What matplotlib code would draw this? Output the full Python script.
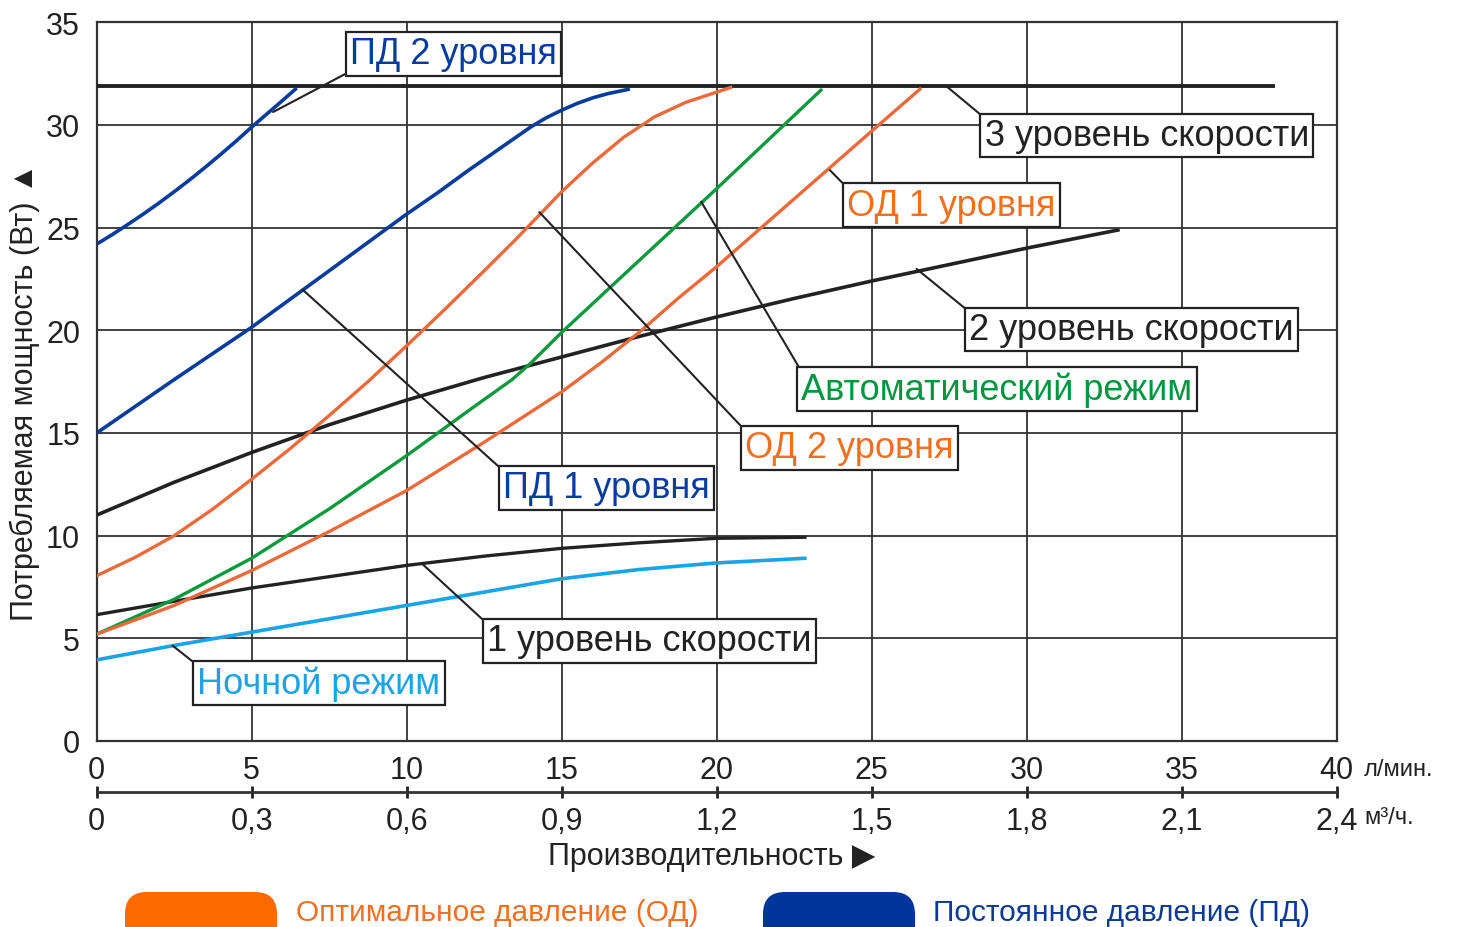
import matplotlib.pyplot as plt
from matplotlib.patches import FancyBboxPatch

plt.rcParams['font.family'] = ['Liberation Sans', 'DejaVu Sans']

# кривые: x - производительность (л/мин), y - потребляемая мощность (Вт)
speed3_x = [0, 38.0]
speed3_y = [31.9, 31.9]
speed2_x = [0, 2.5, 5, 7.5, 10, 12.5, 15, 17.5, 20, 22.5, 25, 27.5, 30, 33.0]
speed2_y = [11.0, 12.6, 14.05, 15.4, 16.6, 17.7, 18.7, 19.7, 20.65, 21.55, 22.4, 23.2, 24.0, 24.9]
speed1_x = [0, 2.5, 5, 7.5, 10, 12.5, 15, 17.5, 20, 22.9]
speed1_y = [6.15, 6.8, 7.45, 8.0, 8.55, 9.0, 9.38, 9.65, 9.87, 9.92]
night_x = [0, 2.5, 5, 7.5, 10, 12.5, 15, 17.5, 20, 22.9]
night_y = [3.95, 4.65, 5.3, 5.95, 6.6, 7.25, 7.9, 8.35, 8.67, 8.9]
pd2_x = [0, 0.5, 1, 1.5, 2, 2.5, 3, 3.5, 4, 4.5, 5, 5.5, 6, 6.45]
pd2_y = [24.2, 24.66, 25.15, 25.66, 26.19, 26.75, 27.33, 27.94, 28.57, 29.22, 29.9, 30.55, 31.2, 31.8]
pd1_x = [0, 2.5, 5, 7.5, 10, 11, 12, 13, 14, 14.5, 15, 15.5, 16, 16.5, 17.2]
pd1_y = [15.0, 17.6, 20.15, 22.9, 25.66, 26.7, 27.8, 28.85, 29.9, 30.35, 30.72, 31.05, 31.32, 31.53, 31.75]
od2_x = [0, 1.25, 2.5, 3.75, 5, 6.25, 7.5, 8.75, 10, 11.25, 12.5, 13.5, 14.3, 15, 16, 17, 18, 19, 20, 20.5]
od2_y = [8.05, 8.95, 10.0, 11.3, 12.75, 14.25, 15.85, 17.5, 19.25, 21.05, 22.9, 24.4, 25.65, 26.75,
         28.15, 29.4, 30.4, 31.1, 31.6, 31.85]
auto_x = [0, 2.5, 5, 7.5, 10, 12.1, 13.4, 14, 15, 17.5, 20, 23.4]
auto_y = [5.2, 6.9, 8.9, 11.3, 13.9, 16.2, 17.6, 18.4, 19.9, 23.4, 26.9, 31.75]
od1_x = [0, 2.5, 5, 7.5, 10, 12.5, 15, 16.25, 17.5, 18.75, 20, 22.5, 25, 26.6]
od1_y = [5.2, 6.6, 8.3, 10.2, 12.2, 14.55, 17.0, 18.4, 19.9, 21.55, 23.1, 26.4, 29.7, 31.8]

x_ticks = [0, 5, 10, 15, 20, 25, 30, 35, 40]
y_ticks = [0, 5, 10, 15, 20, 25, 30, 35]
m3_ticks = [0, 0.3, 0.6, 0.9, 1.2, 1.5, 1.8, 2.1, 2.4]
m3_labels = ['0', '0,3', '0,6', '0,9', '1,2', '1,5', '1,8', '2,1', '2,4']

BLUE = '#063c9c'
ORANGE = '#ec6a3a'
GREEN = '#0a9a3c'
LBLUE = '#1aa3e6'
BLACK = '#222222'

fig = plt.figure(figsize=(14.57, 9.28), dpi=100)
ax = fig.add_axes([0.0664, 0.2005, 0.8510, 0.7744])

for xs, ys, c, lw in [(speed3_x, speed3_y, BLACK, 2.8), (speed2_x, speed2_y, BLACK, 2.6),
                      (speed1_x, speed1_y, BLACK, 2.4), (night_x, night_y, LBLUE, 2.6),
                      (pd2_x, pd2_y, BLUE, 2.6), (pd1_x, pd1_y, BLUE, 2.6),
                      (od2_x, od2_y, ORANGE, 2.4), (auto_x, auto_y, GREEN, 2.4),
                      (od1_x, od1_y, ORANGE, 2.4)]:
    ax.plot(xs, ys, color=c, lw=lw, solid_capstyle='butt', solid_joinstyle='round', zorder=3)

ax.set_xlim(0, 40)
ax.set_ylim(0, 35)
ax.set_xticks(x_ticks)
ax.set_yticks(y_ticks)
ax.grid(True, color='#333333', lw=1.3)
ax.tick_params(length=0, labelsize=22, colors='#222222')
ax.tick_params(axis='x', pad=10)
ax.tick_params(axis='y', pad=12)
for s in ax.spines.values():
    s.set_color('#333333')
    s.set_linewidth(1.6)

# вторая шкала м3/ч
sec = ax.secondary_xaxis(-0.0707, functions=(lambda v: v * 0.06, lambda v: v / 0.06))
sec.set_xticks(m3_ticks, m3_labels)
sec.tick_params(direction='inout', length=9, width=2, labelsize=22, pad=5.5, colors='#222222')
sec.spines['bottom'].set_linewidth(2)
sec.spines['bottom'].set_color('#333333')

# подписи кривых
labels = [
    ('ПД 2 уровня', BLUE, (5.69, 30.63), (11.51, 33.46), (0, 0)),
    ('3 уровень скорости', BLACK, (27.4, 31.9), (33.88, 29.48), (0, 1)),
    ('ОД 1 уровня', '#f07020', (23.65, 27.8), (27.57, 26.09), (0, 1)),
    ('2 уровень скорости', BLACK, (26.45, 22.99), (33.39, 20.04), (0, 1)),
    ('Автоматический режим', '#009640', (19.5, 26.26), (29.04, 17.14), (0, 1)),
    ('ОД 2 уровня', '#f07020', (14.28, 25.75), (24.28, 14.27), (0, 1)),
    ('ПД 1 уровня', BLUE, (6.64, 21.98), (16.44, 12.32), (0, 1)),
    ('1 уровень скорости', BLACK, (10.51, 8.61), (17.82, 4.87), (0, 1)),
    ('Ночной режим', LBLUE, (2.45, 4.64), (7.16, 2.83), (0, 1)),
]
for txt, c, xy, xyt, rp in labels:
    ax.annotate(txt, xy=xy, xytext=xyt, textcoords='data', ha='center', va='center',
                fontsize=26, color=c, zorder=6, annotation_clip=False,
                bbox=dict(boxstyle='square,pad=0.12', fc='white', ec=BLACK, lw=1.6),
                arrowprops=dict(arrowstyle='-', color=BLACK, lw=1.5, shrinkA=0, shrinkB=0,
                                relpos=rp))

# оформление в пикселях
ov = fig.add_axes([0, 0, 1, 1], zorder=-1)
ov.set_xlim(0, 1457)
ov.set_ylim(928, 0)
ov.axis('off')
ov.text(25, 392, 'Потребляемая мощность (Вт) ▲', rotation=90, ha='center', va='center',
        fontsize=22, color='#222222')
ov.text(712, 857, 'Производительность ▶', ha='center', va='center', fontsize=22, color='#222222')
ov.text(1364, 770, 'л/мин.', ha='left', va='center', fontsize=17, color='#222222')
ov.text(1364, 818, 'м³/ч.', ha='left', va='center', fontsize=17, color='#222222')

ov.add_patch(FancyBboxPatch((125, 893), 152, 60, boxstyle='round,pad=0,rounding_size=22',
                            fc='#ff6a00', ec='none'))
ov.text(296, 913, 'Оптимальное давление (ОД)', ha='left', va='center', fontsize=21.5, color='#f07020')
ov.add_patch(FancyBboxPatch((763, 893), 152, 60, boxstyle='round,pad=0,rounding_size=22',
                            fc='#00359c', ec='none'))
ov.text(933, 913, 'Постоянное давление (ПД)', ha='left', va='center', fontsize=21.5, color='#0a3a96')

fig.savefig('out.png', dpi=100)
